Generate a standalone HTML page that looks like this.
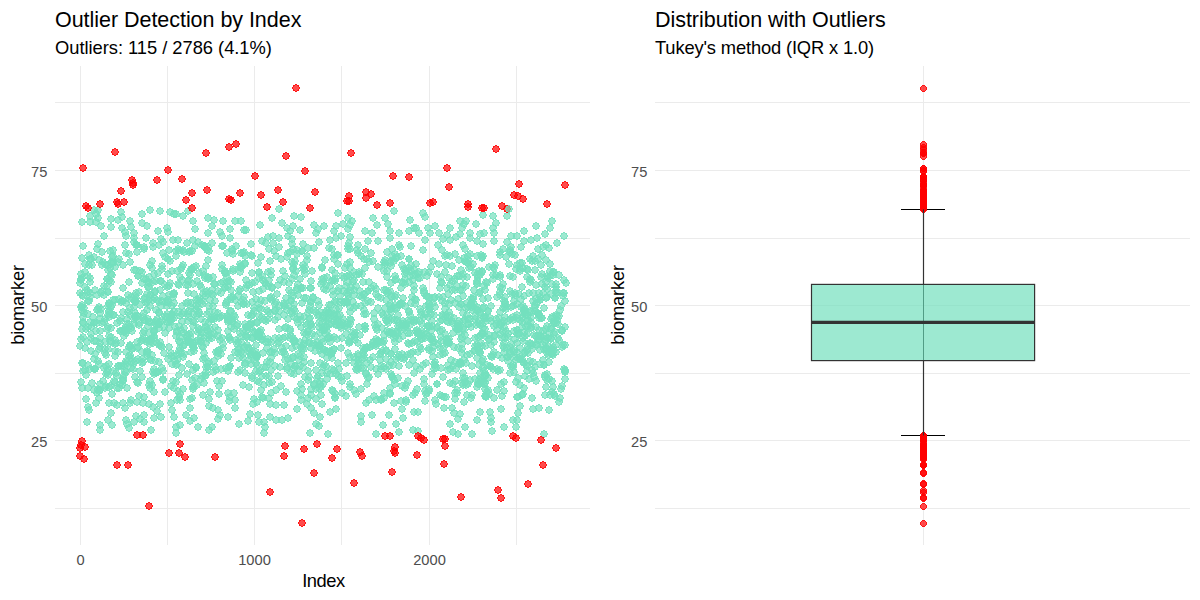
<!DOCTYPE html>
<html><head><meta charset="utf-8"><title>Outlier Detection</title>
<style>html,body{margin:0;padding:0;background:#fff}body{width:1200px;height:600px;overflow:hidden}svg{display:block}text{font-family:"Liberation Sans",sans-serif}.t{font-size:21.5px;fill:#000}.s{font-size:18.33px;fill:#000}.a{font-size:18.33px;fill:#000}.k{font-size:14.67px;fill:#4D4D4D}.g{stroke:#EBEBEB;stroke-width:1;fill:none}.p{fill:#74E0BD;fill-opacity:.7;stroke:#74E0BD;stroke-opacity:.7;stroke-width:1}.r{fill:#f00;fill-opacity:.7;stroke:#f00;stroke-opacity:.7;stroke-width:1}.o{fill:#f00;fill-opacity:.7;stroke:#f00;stroke-opacity:.7;stroke-width:.9}</style></head><body>
<svg width="1200" height="600" viewBox="0 0 1200 600">
<defs><marker id="mt" markerUnits="userSpaceOnUse" markerWidth="8" markerHeight="8" refX="4" refY="4" viewBox="0 0 8 8"><g fill="#74E0BD" fill-opacity=".7" shape-rendering="crispEdges"><path d="M3,0h2v1h2v2h1v2h-1v2h-2v1h-2v-1h-2v-2h-1v-2h1v-2h2z"/><path fill-rule="evenodd" d="M3,0h2v1h2v2h1v2h-1v2h-2v1h-2v-1h-2v-2h-1v-2h1v-2h2zM3,1h2v1h1v1h1v2h-1v1h-1v1h-2v-1h-1v-1h-1v-2h1v-1h1z"/></g></marker><marker id="mr" markerUnits="userSpaceOnUse" markerWidth="8" markerHeight="8" refX="4" refY="4" viewBox="0 0 8 8"><g fill="#f00" fill-opacity=".7" shape-rendering="crispEdges"><path d="M3,0h2v1h2v2h1v2h-1v2h-2v1h-2v-1h-2v-2h-1v-2h1v-2h2z"/><path fill-rule="evenodd" d="M3,0h2v1h2v2h1v2h-1v2h-2v1h-2v-1h-2v-2h-1v-2h1v-2h2zM3,1h2v1h1v1h1v2h-1v1h-1v1h-2v-1h-1v-1h-1v-2h1v-1h1z"/></g></marker><marker id="mo" markerUnits="userSpaceOnUse" markerWidth="7" markerHeight="7" refX="3.5" refY="3.5" viewBox="0 0 7 7"><g fill="#f00" fill-opacity=".7" shape-rendering="crispEdges"><path d="M2,0h3v1h1v1h1v3h-1v1h-1v1h-3v-1h-1v-1h-1v-3h1v-1h1z"/><path fill-rule="evenodd" d="M2,0h3v1h1v1h1v3h-1v1h-1v1h-3v-1h-1v-1h-1v-3h1v-1h1zM2,1h3v1h1v3h-1v1h-3v-1h-1v-3h1z"/></g></marker></defs>
<rect width="1200" height="600" fill="#fff"/>
<g class="g" shape-rendering="crispEdges"><line x1="55.0" x2="589.6" y1="102.5" y2="102.5"/><line x1="55.0" x2="589.6" y1="238.0" y2="238.0"/><line x1="55.0" x2="589.6" y1="373.0" y2="373.0"/><line x1="55.0" x2="589.6" y1="508.5" y2="508.5"/><line x1="55.0" x2="589.6" y1="170.5" y2="170.5"/><line x1="55.0" x2="589.6" y1="305.5" y2="305.5"/><line x1="55.0" x2="589.6" y1="440.5" y2="440.5"/><line x1="80.5" x2="80.5" y1="66.0" y2="544.6"/><line x1="167.5" x2="167.5" y1="66.0" y2="544.6"/><line x1="254.5" x2="254.5" y1="66.0" y2="544.6"/><line x1="341.5" x2="341.5" y1="66.0" y2="544.6"/><line x1="429.5" x2="429.5" y1="66.0" y2="544.6"/><line x1="516.5" x2="516.5" y1="66.0" y2="544.6"/></g>
<g class="g" shape-rendering="crispEdges"><line x1="655.0" x2="1189.8" y1="102.5" y2="102.5"/><line x1="655.0" x2="1189.8" y1="238.0" y2="238.0"/><line x1="655.0" x2="1189.8" y1="373.0" y2="373.0"/><line x1="655.0" x2="1189.8" y1="508.5" y2="508.5"/><line x1="655.0" x2="1189.8" y1="170.5" y2="170.5"/><line x1="655.0" x2="1189.8" y1="305.5" y2="305.5"/><line x1="655.0" x2="1189.8" y1="440.5" y2="440.5"/><line x1="923.5" x2="923.5" y1="66.0" y2="544.6"/></g>
<polyline fill="none" stroke="none" marker-start="url(#mt)" marker-mid="url(#mt)" marker-end="url(#mt)" points="387,271 245,365 82,388 440,288 174,303 105,342 546,387 159,324 111,263 276,405 206,367 152,355 229,338 454,413 127,319 172,364 338,291 477,307 505,307 404,359 257,357 545,342 468,324 460,362 482,333 565,379 442,283 300,316 354,290 357,370 197,385 183,389 137,245 229,367 304,362 414,320 551,327 309,319 94,369 225,273 293,226 513,420 459,332 316,389 167,314 302,349 403,321 448,365 294,216 432,326 291,336 524,231 275,304 502,288 519,294 125,245 102,291 550,276 508,337 97,249 160,404 391,309 387,252 288,319 485,389 430,309 477,275 359,272 415,393 503,284 321,284 250,324 176,214 378,297 130,221 446,315 120,384 273,236 361,416 100,338 238,353 98,210 536,327 291,364 504,327 469,324 420,369 406,272 264,433 405,274 107,279 552,353 237,326 484,286 520,357 246,327 275,338 266,376 103,381 138,316 99,364 439,297 410,333 330,412 531,318 89,410 384,335 395,305 158,324 517,343 268,342 129,356 491,321 190,251 307,404 373,342 125,364 288,253 556,315 391,296 441,368 144,279 418,274 150,359 263,289 422,324 440,355 126,331 394,380 202,333 488,390 298,323 108,420 565,372 401,358 330,286 207,250 364,351 262,340 391,309 404,269 130,315 189,317 298,284 463,245 275,320 83,317 527,371 88,327 180,342 369,377 284,315 184,345 358,253 329,318 338,264 227,316 285,276 466,363 498,355 319,388 111,337 534,335 478,323 212,294 413,275 363,348 223,246 113,256 513,320 87,342 388,292 181,269 302,303 524,310 527,366 327,277 485,396 138,276 427,326 429,272 199,273 542,284 85,370 487,392 535,367 100,430 179,397 108,292 180,400 487,283 130,403 482,257 257,355 517,315 101,226 477,241 358,245 531,322 485,290 477,281 97,310 207,330 152,338 265,283 145,298 206,372 532,370 402,409 394,338 443,349 301,327 96,331 90,369 546,348 178,359 494,268 135,317 320,384 228,320 409,282 161,306 109,281 188,321 249,360 390,291 179,375 148,326 276,302 165,333 565,301 143,338 471,303 138,359 459,321 281,259 532,349 206,266 88,407 399,366 543,293 502,358 193,389 329,324 140,371 480,234 394,211 488,298 382,328 286,298 274,349 107,372 538,313 154,332 186,341 274,251 89,255 349,275 347,276 134,422 140,271 461,364 161,281 480,353 149,333 542,318 477,358 106,355 429,326 270,261 147,310 151,295 520,271 246,331 194,294 293,249 85,287 339,288 259,316 488,311 104,236 374,319 229,337 347,303 365,326 268,272 92,265 330,351 127,424 387,321 232,322 177,331 243,253 529,293 293,296 407,321 159,245 446,397 360,291 177,332 116,373 147,342 173,297 391,354 327,351 311,302 378,374 285,354 473,299 311,389 466,385 376,328 278,376 171,386 361,256 415,304 341,377 131,400 231,358 475,346 244,347 125,232 496,275 126,352 232,249 162,347 303,265 82,222 150,322 257,336 211,319 216,370 275,311 547,297 410,276 467,395 227,282 326,366 366,373 509,264 226,368 475,338 468,319 399,355 96,214 429,389 560,398 346,334 142,377 292,348 546,282 416,331 114,381 136,270 82,307 252,338 148,282 123,312 136,301 441,282 151,341 457,329 304,317 205,327 414,322 466,286 356,369 344,278 364,314 115,340 455,279 321,395 315,351 500,334 564,280 514,352 240,370 316,370 267,310 89,265 176,427 121,302 334,349 413,352 539,315 87,422 529,379 342,338 83,322 96,403 233,269 434,369 314,248 134,324 178,284 151,360 470,319 375,325 522,287 111,219 109,317 110,314 552,317 259,308 293,357 194,418 551,349 536,226 82,329 345,326 500,370 329,248 384,290 305,267 441,341 231,297 386,300 489,267 462,337 486,396 397,332 501,384 557,293 214,334 220,415 304,344 522,327 319,242 495,265 468,341 272,218 307,260 94,323 218,351 269,383 119,388 398,378 390,388 371,253 241,352 500,252 144,249 132,349 88,388 109,364 504,391 147,226 104,322 443,297 510,250 536,285 488,378 549,410 199,312 153,372 122,228 206,292 538,340 433,342 253,338 82,305 350,268 354,272 238,306 259,372 463,321 134,233 402,354 207,363 127,388 465,427 486,318 280,280 426,363 341,236 197,281 422,331 97,323 285,306 449,339 377,341 341,328 230,340 192,269 108,349 105,349 442,320 526,315 253,332 514,350 322,373 372,415 348,295 193,284 258,415 190,408 450,285 154,274 551,294 98,309 118,366 362,359 516,427 181,353 340,302 560,310 257,323 256,355 229,401 175,327 188,314 208,367 479,321 358,356 111,282 429,303 199,314 129,254 323,318 463,285 199,330 147,355 153,407 179,285 448,343 452,290 516,382 271,358 513,367 505,338 202,346 308,324 330,374 108,375 420,321 83,363 279,342 346,286 427,393 144,422 329,338 86,329 420,336 277,294 554,350 252,351 404,328 311,302 193,240 510,291 292,313 485,383 214,220 374,396 245,347 414,373 418,431 424,291 264,320 100,343 148,287 518,397 327,379 214,284 205,296 380,360 130,346 311,324 310,433 131,368 129,299 170,261 540,350 183,357 325,326 522,359 467,355 443,239 363,353 450,383 111,413 309,341 121,366 218,330 316,345 154,330 376,289 356,275 361,306 448,322 485,376 268,237 194,314 493,267 206,375 525,376 409,365 471,299 292,239 203,301 405,306 540,300 432,351 177,355 450,316 234,393 157,300 201,332 193,347 546,260 121,212 508,321 246,230 269,249 408,343 102,265 402,304 142,340 259,272 463,274 126,303 539,408 162,269 463,373 180,394 493,216 531,328 401,330 458,327 176,256 471,304 506,331 263,280 336,319 331,354 332,281 265,301 292,262 475,379 318,316 441,337 523,268 500,275 555,298 361,389 113,300 510,347 437,274 106,366 181,330 111,227 251,354 517,304 369,400 313,298 483,308 173,381 368,378 119,366 336,226 203,359 241,342 440,331 119,299 245,363 536,336 215,312 337,255 553,275 322,354 320,332 358,354 81,382 136,293 530,343 355,333 131,328 491,367 368,291 420,309 192,380 531,240 110,268 231,290 286,392 252,273 483,334 425,338 209,362 279,238 162,266 493,355 480,336 91,338 261,330 416,366 383,315 544,434 449,304 256,371 262,339 519,333 425,217 340,296 524,311 479,384 459,307 326,290 284,282 252,376 192,398 392,319 502,396 407,355 191,269 533,293 348,218 477,420 563,345 426,334 365,303 394,320 552,381 269,376 371,288 249,348 121,318 168,300 429,304 288,236 434,364 309,377 374,342 322,267 423,250 218,410 475,316 182,321 462,290 520,263 132,349 287,369 149,277 288,359 94,341 174,294 540,300 542,255 189,364 80,283 161,346 271,393 415,299 212,243 442,330 251,323 504,353 335,397 222,269 426,394 497,297 563,293 142,272 457,276 351,337 276,256 279,209 467,277 218,336 385,218 137,402 286,346 240,267 358,368 527,269 396,279 188,302 235,300 333,295 180,348 201,341 165,285 450,228 258,333 255,332 399,323 463,296 415,341 270,404 561,389 149,322 287,257 294,304 483,215 222,236 548,346 554,272 174,293 273,243 514,372 507,357 327,358 527,321 239,349 247,285 107,286 491,345 137,245 320,350 564,236 421,335 409,311 214,361 283,271 549,352 220,317 341,322 530,282 353,332 453,333 398,326 81,274 369,282 402,386 311,288 391,354 447,321 192,251 265,427 490,412 209,399 131,358 85,272 238,349 477,256 339,308 416,320 195,378 204,383 401,256 424,293 152,385 94,210 107,329 109,311 266,284 454,347 327,331 338,376 308,331 538,259 536,299 166,317 182,280 480,373 191,333 350,276 335,279 312,327 225,288 395,276 300,356 334,314 100,331 347,293 305,274 115,356 230,238 81,280 465,382 299,371 142,352 159,302 316,312 229,281 334,255 134,242 264,422 131,362 205,322 399,328 212,338 107,279 246,337 108,370 351,320 461,304 139,325 293,269 533,362 220,232 324,330 482,361 87,290 540,364 311,281 444,408 130,355 406,326 367,384 344,302 327,310 294,275 330,337 443,316 413,360 169,286 334,337 419,272 135,302 417,342 252,378 362,274 180,425 468,263 133,369 465,320 544,308 144,415 245,373 492,431 546,349 325,260 350,319 267,348 448,294 421,312 485,346 80,346 237,344 145,320 445,303 533,373 300,342 520,406 365,268 547,374 429,307 154,338 557,320 409,231 549,362 95,369 144,247 226,305 89,301 81,339 117,376 452,281 284,305 338,213 439,233 535,307 301,384 536,381 428,317 240,337 163,371 361,368 370,347 527,277 147,302 547,326 512,254 474,290 354,295 223,221 150,388 178,312 137,382 497,390 433,261 484,381 494,352 194,351 462,353 177,400 292,244 188,293 417,330 534,377 262,397 195,342 320,381 389,318 422,339 335,301 100,347 203,395 108,315 378,308 300,230 473,297 138,276 323,282 552,221 536,344 361,422 395,342 435,400 278,317 306,334 215,367 459,364 135,316 556,293 262,317 396,295 471,307 445,353 553,387 350,312 547,380 259,278 546,329 418,412 163,296 452,408 348,327 154,374 546,298 348,324 353,282 381,399 221,293 102,252 543,345 306,325 390,304 317,343 545,287 290,252 442,250 191,303 477,283 230,366 198,332 554,394 285,360 191,307 532,261 85,264 260,225 395,280 414,412 384,367 111,342 151,430 356,286 503,331 378,241 365,249 435,365 517,420 179,351 215,327 178,249 508,361 324,350 518,413 353,302 95,290 324,327 243,331 90,282 320,346 346,301 494,336 478,346 489,339 252,302 150,210 142,363 207,314 424,384 513,306 228,417 385,308 269,280 244,230 472,395 82,310 115,300 350,237 193,221 562,330 314,413 263,353 142,223 493,279 302,251 440,321 171,321 544,349 392,297 205,376 159,312 135,296 150,381 546,340 482,346 416,228 125,330 248,327 142,214 559,316 505,297 218,313 564,293 162,320 205,247 350,387 365,329 110,341 257,356 333,391 154,392 470,354 480,312 142,283 391,266 503,346 343,319 374,313 126,420 146,303 489,340 209,430 286,327 549,333 530,279 433,347 269,398 168,274 231,299 429,336 279,247 431,314 540,297 387,321 516,269 174,311 100,384 241,253 255,282 139,292 409,312 123,403 354,390 80,293 425,240 368,291 521,247 379,341 557,316 88,365 195,229 465,249 484,371 500,277 105,319 354,335 481,381 157,343 272,288 366,314 491,418 446,265 291,301 336,309 299,360 362,297 510,319 290,329 298,295 160,342 106,374 319,315 209,251 176,365 338,363 373,261 395,349 252,256 462,344 294,341 339,369 392,376 88,292 322,330 282,348 201,319 320,417 172,315 163,379 364,355 126,361 309,343 196,367 494,342 500,295 387,293 521,299 113,315 472,434 104,368 462,349 465,261 209,278 122,301 314,385 528,320 399,339 209,306 161,239 447,317 526,365 248,315 258,337 190,343 429,297 398,357 497,330 421,339 358,360 528,315 397,257 182,314 144,331 271,271 390,306 143,362 122,385 395,297 164,327 272,352 364,294 332,358 332,369 364,310 464,360 324,226 564,369 403,324 357,250 243,354 240,272 136,245 346,396 228,318 459,260 187,335 538,314 311,363 174,318 504,382 435,297 246,288 259,272 367,347 290,331 444,397 383,425 431,339 510,252 171,403 238,324 475,350 392,333 461,270 135,361 208,367 322,404 442,301 117,323 227,277 258,332 489,335 231,327 557,243 340,326 376,434 504,321 336,374 479,380 153,300 82,278 291,373 165,392 460,363 312,334 455,381 184,354 160,290 289,306 386,369 388,224 147,353 450,424 455,393 554,334 477,284 324,278 547,276 445,256 328,434 413,280 364,295 205,358 282,223 187,337 174,214 517,397 226,303 367,363 183,216 333,280 99,391 547,289 438,245 351,287 86,399 423,213 524,296 188,340 193,387 231,282 91,334 143,403 406,400 502,338 125,371 439,264 243,300 267,362 364,259 539,318 149,404 90,222 504,343 501,409 455,399 141,341 112,305 293,268 189,252 130,308 201,342 137,252 395,308 132,331 479,351 202,304 100,319 338,255 409,344 481,343 188,285 525,353 512,294 256,357 125,328 154,298 291,293 368,241 513,317 218,291 518,378 349,341 209,322 335,394 381,366 112,394 514,301 520,359 463,328 549,248 209,339 329,305 437,327 312,271 469,261 208,331 109,303 480,314 200,301 443,354 494,241 122,217 507,242 266,321 435,362 308,248 184,312 492,357 396,258 336,324 172,318 528,270 136,416 447,342 261,390 478,310 319,346 193,347 156,373 510,276 159,328 408,333 129,428 137,342 483,328 205,278 348,299 506,309 391,283 296,271 544,365 482,271 553,355 334,231 478,349 513,277 257,402 543,331 100,390 394,261 384,341 420,278 371,367 340,315 349,243 403,283 479,293 324,289 108,270 232,251 347,264 285,337 329,312 247,337 464,224 421,349 458,348 135,300 254,399 322,339 140,419 409,259 170,320 271,342 565,345 168,359 232,321 559,275 208,218 241,268 208,260 481,255 374,286 210,392 115,351 216,352 221,283 463,313 215,301 323,342 251,316 347,376 425,401 126,372 406,385 275,310 494,326 537,345 365,349 494,233 458,324 188,211 466,262 149,385 425,314 99,260 400,304 393,334 212,290 301,320 225,287 528,346 131,297 303,345 356,306 245,263 310,306 279,329 433,303 193,326 450,256 158,372 436,404 320,363 114,403 311,395 334,259 435,226 419,333 123,378 238,296 301,395 473,264 156,321 558,324 198,340 359,274 392,249 179,341 182,267 296,346 490,366 257,381 257,322 209,335 484,318 392,377 313,344 127,324 126,333 83,337 554,321 144,397 556,287 471,327 99,307 360,296 386,359 217,381 163,380 209,406 425,391 517,330 228,320 124,336 449,342 156,281 227,253 478,337 420,347 341,348 553,272 458,329 515,295 377,330 440,395 540,336 409,259 221,369 256,299 458,326 513,365 403,418 350,324 194,267 88,276 153,247 482,334 385,260 156,372 196,300 482,272 376,294 429,348 350,384 180,277 449,343 484,317 545,395 302,251 366,348 251,244 170,212 550,264 437,384 493,228 309,310 297,288 83,371 429,391 294,309 227,301 368,301 411,246 308,313 150,295 82,258 387,315 183,265 478,384 202,245 336,238 411,303 500,325 178,240 100,425 297,391 140,305 186,285 354,280 525,336 452,266 437,328 222,316 396,336 549,379 551,339 476,224 112,425 330,313 369,262 276,420 334,349 460,234 116,343 470,238 504,348 485,336 157,325 219,394 384,398 462,383 169,328 350,307 432,339 213,295 268,286 331,354 324,330 165,316 370,347 511,307 466,221 218,356 399,233 196,309 385,265 538,249 253,292 82,363 118,352 402,282 88,314 556,352 236,246 94,323 232,319 191,339 515,339 207,291 323,367 384,262 523,313 440,348 319,327 472,305 293,338 388,323 519,334 476,310 135,313 250,325 318,229 363,282 150,306 389,366 94,390 105,388 457,393 517,330 193,345 520,348 533,256 213,408 271,297 394,403 214,319 124,366 209,312 167,287 376,369 175,361 450,240 268,319 347,323 262,336 271,370 393,365 501,325 533,301 371,302 153,243 186,303 191,352 239,424 259,291 123,380 542,274 228,393 496,324 91,327 460,221 405,279 151,339 483,359 208,294 480,275 505,302 384,271 219,386 209,336 308,380 160,211 406,270 90,216 406,326 438,344 292,279 198,300 354,308 308,371 272,382 530,361 306,298 355,340 475,273 244,304 381,298 235,221 183,250 516,360 97,295 425,272 203,271 391,362 523,338 500,292 493,275 233,271 550,228 525,313 448,370 289,290 452,323 498,371 484,384 451,360 249,387 189,273 508,334 259,337 455,254 413,395 125,408 411,353 245,264 201,338 155,323 468,307 390,393 287,367 385,263 129,324 381,342 404,325 290,231 552,284 531,280 234,315 349,343 246,327 301,400 84,308 486,397 212,427 456,237 194,322 243,385 247,304 241,266 176,251 363,368 134,270 134,238 233,254 110,251 196,306 338,321 401,401 491,306 447,235 135,302 411,265 376,346 458,434 554,323 559,340 208,233 471,267 184,252 539,314 228,331 493,369 196,368 459,276 396,424 486,321 556,345 424,333 530,344 530,311 418,334 427,276 177,271 523,362 238,372 565,370 262,376 254,308 372,233 355,337 86,375 531,327 188,281 469,268 168,232 332,353 149,287 347,282 562,331 322,279 311,348 82,295 210,329 149,283 214,317 193,370 517,236 500,312 555,298 322,323 235,352 280,367 120,331 105,264 525,309 556,284 119,259 282,352 342,381 458,419 336,302 219,318 298,354 91,351 301,347 104,295 328,338 126,236 158,231 153,282 350,342 532,398 424,379 111,307 112,257 251,356 414,228 301,217 548,278 246,280 250,353 92,383 231,311 230,229 108,265 243,304 392,256 332,270 190,421 305,340 461,304 315,336 149,300 403,336 514,331 551,329 226,273 291,311 463,277 472,366 496,319 297,319 326,285 415,274 401,288 99,398 457,390 324,365 402,265 451,300 94,359 90,278 208,277 240,289 193,343 545,377 347,302 373,218 495,335 539,293 318,376 163,253 550,395 316,424 543,247 546,245 295,366 562,347 452,321 115,344 292,358 486,375 222,246 396,359 201,379 230,366 190,275 491,422 81,307 167,228 157,411 270,298 550,271 359,327 154,336 426,296 327,327 327,352 545,375 497,369 262,241 477,387 522,322 301,288 335,273 111,274 399,432 474,304 230,397 354,363 223,282 350,357 450,369 412,297 131,227 236,340 423,365 428,228 91,259 204,338 463,378 470,254 510,373 208,279 463,385 218,353 510,352 130,262 336,409 429,327 285,328 148,340 118,262 386,320 98,218 256,352 489,394 244,297 434,315 278,343 239,358 352,221 337,315 405,388 279,306 304,357 118,220 468,256 93,317 167,306 331,324 109,336 135,377 566,283 356,394 155,361 559,402 272,287 419,233 189,311 483,244 526,327 515,293 395,254 405,284 289,283 239,291 205,246 129,282 162,368 345,268 245,324 142,359 399,245 323,349 218,419 547,353 553,351 518,358 381,400 152,268 464,330 511,366 395,384 123,288 483,367 88,301 453,384 484,233 445,309 510,354 455,303 319,345 383,343 198,307 449,278 447,339 548,338 318,301 310,288 322,268 304,333 235,408 228,371 530,259 276,390 496,223 294,264 210,300 334,370 222,338 148,352 291,300 434,342 445,272 327,373 144,313 390,394 432,321 389,334 485,374 101,293 283,338 400,305 417,333 206,343 295,311 342,276 416,264 335,281 243,358 523,394 251,255 477,345 447,344 465,378 376,344 144,299 552,392 180,337 159,345 251,364 186,415 284,303 465,335 110,386 270,352 482,258 330,240 105,353 251,328 565,371 222,381 310,318 326,318 101,309 335,398 431,331 421,315 409,268 432,337 180,250 228,287 432,374 504,301 348,246 126,253 238,342 294,369 482,324 184,328 551,338 109,387 174,417 488,311 544,365 332,249 541,277 523,341 445,334 120,321 378,267 287,228 305,377 157,319 109,403 511,344 517,352 146,279 456,369 113,250 113,263 397,308 330,342 222,265 479,271 254,311 319,426 470,380 311,408 533,409 475,319 264,367 245,256 364,358 319,323 472,310 112,275 223,348 350,249 194,348 225,271 427,296 449,312 303,244 527,334 527,350 470,233 476,325 147,294 524,332 106,386 389,332 137,316 319,305 308,398 304,270 437,384 460,414 161,417 103,262 95,354 83,323 121,331 213,372 392,331 483,256 453,432 266,367 447,288 555,396 500,287 541,265 83,246 212,226 365,329 521,307 334,321 459,329 129,327 213,306 506,257 418,278 170,283 308,332 480,292 387,331 446,339 411,320 172,306 541,336 288,418 503,308 333,291 303,268 366,374 455,362 524,241 535,270 520,269 535,261 382,313 155,292 543,360 150,265 266,243 178,391 155,291 307,256 556,290 263,398 360,335 485,329 176,336 544,336 279,338 148,319 189,341 134,307 123,265 303,367 553,347 532,345 467,303 174,356 311,325 123,301 266,342 344,303 397,320 294,374 297,290 405,357 270,417 500,255 487,365 471,398 484,307 203,347 346,363 504,427 197,315 537,238 98,361 414,269 117,388 441,277 162,301 198,328 563,296 458,299 300,279 411,271 328,313 154,369 486,282 176,433 390,238 378,324 240,333 160,322 94,257 83,296 410,220 417,389 165,257 198,242 431,267 227,316 548,355 381,369 259,304 206,327 240,264 98,244 171,356 512,357 139,396 275,353 302,389 480,352 189,280 123,381 247,345 433,357 505,304 435,365 275,366 85,348 460,290 287,310 401,303 535,305 460,325 517,265 258,263 204,246 256,345 104,286 539,330 480,412 429,350 174,388 187,243 179,326 257,365 211,334 538,336 552,354 249,349 235,317 454,318 556,323 201,287 325,333 389,415 198,427 121,343 138,347 386,290 436,368 134,363 172,314 143,317 377,225 172,410 551,319 241,221 259,422 84,313 505,317 535,311 246,335 366,403 223,344 374,345 350,291 149,340 406,402 183,333 365,326 297,254 128,295 376,339 423,288 284,405 539,339 128,312 386,351 284,352 233,297 413,430 252,315 403,298 464,258 481,378 354,357 426,306 314,225 328,320 447,255 522,395 215,284 194,386 204,353 235,400 517,318 108,292 124,375 501,323 464,402 108,327 96,341 507,348 358,364 342,325 511,247 97,393 282,420 295,261 503,249 466,308 154,418 261,309 129,347 410,325 511,236 213,277 342,393 301,288 295,366 182,368 183,346 336,325 177,364 468,384 390,231 261,257 124,332 221,354 147,351 410,315 169,347 200,285 112,262 541,318 137,348 350,262 331,305 297,409 313,297 457,286 303,288 168,302 172,315 453,366 113,371 114,315 268,339 334,316 200,298 244,252 153,343 348,249 537,303 491,356 545,234 343,224 418,352 270,362 443,377 252,283 115,267 515,255 253,404 270,314 316,399 259,382 522,263 159,313 143,333 152,261 490,318 99,349 358,343 169,295 408,381 507,216 313,310 429,310 146,238 524,363 461,339 414,290 173,240 316,233 172,271 359,363 520,320 108,306 434,298 323,316 332,390 163,242 195,246 187,374 171,353 90,293 241,302 523,306 130,345 234,329 442,396 520,385 208,247 256,363 248,421 522,318 387,277 561,306 136,298 430,233 508,357 317,378 558,338 260,371 98,389 196,266 381,353 271,275 474,351 158,273 435,307 95,369 320,312 281,386 479,365 480,325 268,312 81,279 338,322 414,286 154,331 525,352 494,398 203,294 390,263 382,351 90,259 168,259 159,362 115,382 90,297 424,317 204,275 391,312 300,366 555,332 531,312 164,353 367,259 264,385 192,270 259,335 294,342 228,322 379,341 373,357 117,405 297,250 406,324 467,315 262,276 455,290 139,323 212,319 323,384 344,291 370,360 100,313 416,300 565,327 261,300 144,320 202,376 348,353 483,299 150,344 400,247 173,294 160,281 290,338 272,300 391,333 295,341 182,306 384,393 169,250 111,328 278,285 386,350 176,382 326,312 190,399 260,332 412,343 442,315 376,400 102,323 294,317 304,298 398,315 249,285 456,328 462,228 90,322 391,261 167,322 517,334 478,277 169,322 109,304 250,414 499,318 350,225 528,353 314,384 189,334 193,321 230,311 279,311 220,340 123,330 109,311 166,302 127,362 138,383 96,222 219,350 348,229 562,386 134,319 365,231 156,310 528,326 524,388 321,387 391,374 180,316 304,349 398,334 337,339 380,354"/>
<polyline fill="none" stroke="none" marker-start="url(#mr)" marker-mid="url(#mr)" marker-end="url(#mr)" points="83,168 115,152 86,206 88,208 100,204 117,202 118,204 124,202 121,191 132,180 133,183 133,185 157,180 168,170 182,179 192,193 186,200 192,208 206,153 207,190 229,147 236,144 229,199 231,200 240,193 296,88 286,156 305,171 255,176 261,195 278,190 283,202 267,207 315,192 310,208 351,153 349,196 347,201 349,201 366,192 371,194 366,198 377,205 390,203 393,176 409,177 430,203 433,202 447,168 449,187 496,149 468,204 468,207 482,208 484,208 502,206 507,209 519,184 514,195 518,196 523,199 547,204 565,185 82,441 81,445 80,448 85,447 80,456 84,459 117,465 128,465 137,435 143,435 149,506 169,453 180,444 179,453 185,457 215,457 270,492 285,446 284,456 304,449 317,444 314,473 302,523 337,449 332,458 354,483 360,452 362,456 385,436 390,436 395,447 394,451 395,453 392,472 417,455 418,436 421,438 424,440 443,439 445,446 444,464 445,439 461,497 498,490 501,498 513,436 516,438 528,484 541,440 543,465 556,448"/>
<polyline fill="none" stroke="none" marker-start="url(#mt)" points="509,209 509,209"/>
<g stroke="#000" stroke-width="1" fill="none" shape-rendering="crispEdges"><line x1="901.3" x2="945" y1="209.5" y2="209.5"/><line x1="901.3" x2="945" y1="435.5" y2="435.5"/><line x1="923.5" x2="923.5" y1="209.5" y2="435.5"/></g>
<g transform="translate(0.5,0.5)"><polyline fill="none" stroke="none" marker-start="url(#mo)" marker-mid="url(#mo)" marker-end="url(#mo)" points="923,168 923,152 923,206 923,208 923,204 923,202 923,204 923,202 923,191 923,180 923,183 923,185 923,180 923,170 923,179 923,193 923,200 923,208 923,153 923,190 923,147 923,144 923,199 923,200 923,193 923,88 923,156 923,171 923,176 923,195 923,190 923,202 923,207 923,192 923,208 923,153 923,196 923,201 923,201 923,192 923,194 923,198 923,205 923,203 923,176 923,177 923,203 923,202 923,168 923,187 923,149 923,204 923,207 923,208 923,208 923,206 923,209 923,184 923,195 923,196 923,199 923,204 923,185 923,441 923,445 923,448 923,447 923,456 923,459 923,465 923,465 923,435 923,435 923,506 923,453 923,444 923,453 923,457 923,457 923,492 923,446 923,456 923,449 923,444 923,473 923,523 923,449 923,458 923,483 923,452 923,456 923,436 923,436 923,447 923,451 923,453 923,472 923,455 923,436 923,438 923,440 923,439 923,446 923,464 923,439 923,497 923,490 923,498 923,436 923,438 923,484 923,440 923,465 923,448"/></g>
<g stroke="#333" stroke-width="1.2" fill="none"><line x1="923.5" x2="923.5" y1="209.3" y2="284.4"/><line x1="923.5" x2="923.5" y1="360.6" y2="435.5"/></g>
<rect x="811.5" y="284.4" width="223.1" height="76.2" fill="#74E0BD" fill-opacity=".7" stroke="#333" stroke-width="1.2"/>
<line x1="811.5" x2="1034.6" y1="322.3" y2="322.3" stroke="#333" stroke-width="3.2"/>
<text class="t" x="55" y="26.5" letter-spacing="-0.04">Outlier Detection by Index</text>
<text class="s" x="55" y="54" letter-spacing="-0.03">Outliers: 115 / 2786 (4.1%)</text>
<text class="t" x="655" y="26.5" letter-spacing="-0.04">Distribution with Outliers</text>
<text class="s" x="655" y="54" letter-spacing="-0.15">Tukey's method (IQR x 1.0)</text>
<text class="k" x="47.3" y="176.5" text-anchor="end">75</text>
<text class="k" x="647.3" y="176.5" text-anchor="end">75</text>
<text class="k" x="47.3" y="311.5" text-anchor="end">50</text>
<text class="k" x="647.3" y="311.5" text-anchor="end">50</text>
<text class="k" x="47.3" y="446.5" text-anchor="end">25</text>
<text class="k" x="647.3" y="446.5" text-anchor="end">25</text>
<text class="k" x="80.5" y="565.4" text-anchor="middle">0</text>
<text class="k" x="254.5" y="565.4" text-anchor="middle">1000</text>
<text class="k" x="429.5" y="565.4" text-anchor="middle">2000</text>
<text class="a" x="323.4" y="586.6" text-anchor="middle" letter-spacing="-0.5">Index</text>
<text class="a" transform="translate(24.4,305) rotate(-90)" text-anchor="middle" letter-spacing="-0.2">biomarker</text>
<text class="a" transform="translate(624.4,305) rotate(-90)" text-anchor="middle" letter-spacing="-0.2">biomarker</text>
</svg></body></html>
